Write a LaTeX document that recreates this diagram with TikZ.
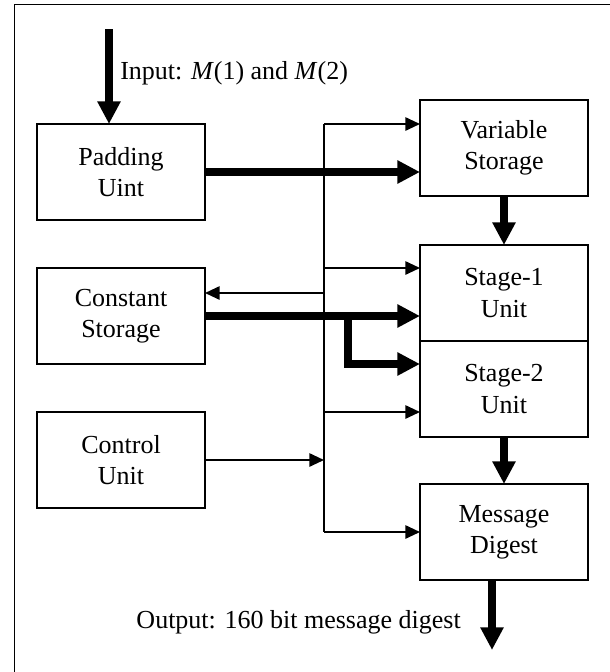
\documentclass[tikz,border=0pt]{standalone}
\usepackage{fontspec}
\setmainfont{Liberation Serif}
\usetikzlibrary{arrows.meta,positioning}

\tikzset{
    bloque/.style={draw,line width=1.2pt,minimum width=126pt,minimum height=72pt,inner sep=0pt,outer sep=0pt,align=center},
    fino/.style={line width=1.4pt,-{Triangle[length=11pt,width=10pt]}},
    grueso/.style={line width=5.5pt,-{Triangle[length=17pt,width=16.5pt]}},
    texto/.style={inner sep=0pt}
}

\begin{document}
\begin{tikzpicture}[x=0.75pt,y=-0.75pt,font=\fontsize{19.5}{23.3}\selectfont]
\def\xizq{121};%columna izquierda
\def\xder{504};%columna derecha
\def\xbus{324};%linea del bus de control

\clip (0,0) rectangle (610,672);
%Marco
\draw[line width=1pt] (14.7,4.5) rectangle (700,760);

%Bloques
\node[bloque] (pad) at (\xizq,172) {Padding\\Uint};
\node[bloque] (cs) at (\xizq,316) {Constant\\Storage};
\node[bloque] (cu) at (\xizq,460) {Control\\Unit};
\node[bloque] (vs) at (\xder,148) {Variable\\Storage};
\node[bloque] (st1) at (\xder,293) {Stage-1\\Unit};
\node[bloque,below=0pt of st1] (st2) {Stage-2\\Unit};
\node[bloque] (md) at (\xder,532) {Message\\Digest};

%Entrada y salida
\coordinate (ent) at (109,29);
\coordinate (sal) at (492,650);
\node[texto,anchor=base west] (lblEnt) at (120,79) {Input: \textit{M}(1) and \textit{M}(2)};
\node[texto,anchor=base east] (lblSal) at (461,628) {Output: 160 bit message digest};
\draw[grueso] (ent) -- (ent |- pad.north);
\draw[grueso] (md.south -| sal) -- (sal);

%Bus de control
\coordinate (busA) at (\xbus,124);
\coordinate (busB) at (\xbus,532);
\coordinate (busC) at (\xbus,293);
\draw[line width=1.4pt] (busA) -- (busB);
\draw[fino] (busA) -- (busA -| vs.west);
\draw[fino] (cs.north -| busA) -- (cs.north -| st1.west);
\draw[fino] (busC) -- (busC -| cs.east);
\draw[fino] (cu.north -| busA) -- (cu.north -| st2.west);
\draw[fino] (cu.east) -- (cu.east -| busA);
\draw[fino] (busB) -- (busB -| md.west);

%Datos
\coordinate (der) at (348,316);
\draw[grueso] (vs.south) -- (st1.north);
\draw[grueso] (st2.south) -- (md.north);
\draw[grueso] (pad.east) -- (pad.east -| vs.west);
\draw[grueso] (cs.east) -- (cs.east -| st1.west);
\draw[grueso] (cs.east -| der) |- (cs.south -| st2.west);
\end{tikzpicture}
\end{document}
